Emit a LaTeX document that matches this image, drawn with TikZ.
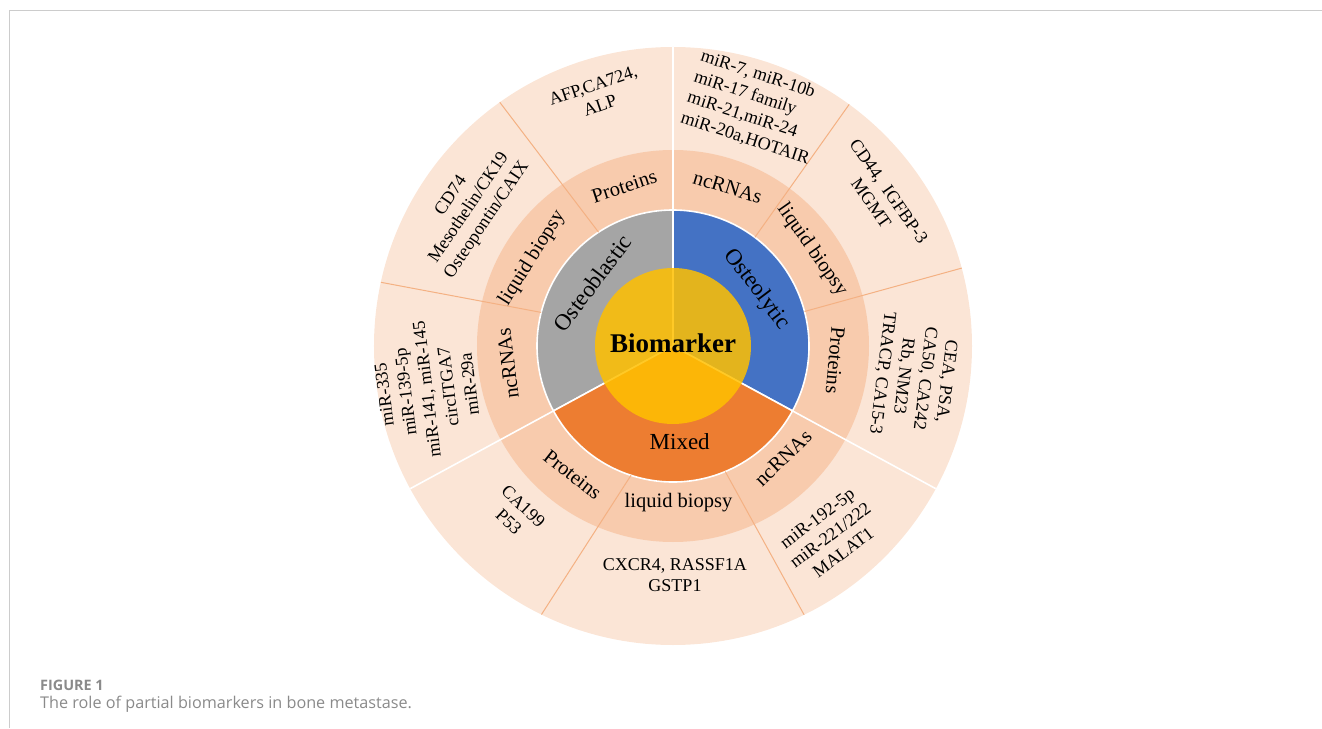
\documentclass[tikz,border=0pt]{standalone}
\usepackage{fontspec}
\setmainfont{Liberation Serif}
\newfontfamily\capfont{Open Sans}

\definecolor{outerring}{HTML}{FBE5D6}
\definecolor{midring}{HTML}{F8CBAD}
\definecolor{cutline}{HTML}{F4B183}
\definecolor{blastgray}{HTML}{A5A5A5}
\definecolor{lyticblue}{HTML}{4472C4}
\definecolor{mixorange}{HTML}{ED7D31}
\definecolor{coreyellow}{HTML}{FFC000}
\definecolor{framegray}{HTML}{CCCCCC}
\definecolor{capgray}{HTML}{8A8A8A}

% one slice of the wheel: start angle, end angle, radius
\newcommand{\wedgeslice}[3]{(0,0) -- (#1:#3) arc[start angle=#1, end angle=#2, radius=#3] -- cycle}

\begin{document}
\begin{tikzpicture}[x=1pt, y=1pt,
    leaf/.style={font=\fontsize{18}{21.5}\selectfont, align=center, inner sep=0pt},
    seg/.style={font=\fontsize{20.5}{24}\selectfont, inner sep=0pt},
    core/.style={font=\fontsize{23}{27}\selectfont, inner sep=0pt},
    cut/.style={draw=cutline, line width=1pt},
    split/.style={draw=white, line width=1.6pt}
]
\useasboundingbox (-673,-382) rectangle (649,346);

% Frame
\draw[framegray, line width=1pt] (649,335) -- (-663.5,335) -- (-663.5,-382);

% Rings
\fill[outerring] (0,0) circle[radius=299];
\fill[midring] (0,0) circle[radius=196];

% Bone lesion types
\filldraw[fill=blastgray, split] \wedgeslice{90}{208.5}{136};
\filldraw[fill=lyticblue, split] \wedgeslice{-28.5}{90}{136};
\filldraw[fill=mixorange, split] \wedgeslice{208.5}{331.5}{136};

% Centre disc
\fill[coreyellow, fill opacity=0.85] (0,0) circle[radius=78];

% Sub-sector dividers
\draw[cut] (123.2:136) -- (125.4:299);
\draw[cut] (165.7:136) -- (167.7:299);
\draw[cut] (53:136) -- (53.9:299);
\draw[cut] (14.7:136) -- (15.1:299);
\draw[cut] (252:136) -- (243.9:299);
\draw[cut] (292.6:136) -- (296:299);

% Sector dividers
\foreach \a in {90,208.5,331.5}
    \draw[split] (\a:136) -- (\a:299);

% Centre and lesion labels
\node[font=\fontsize{27}{30}\selectfont\bfseries] (biomarker) at (0,3) {Biomarker};
\node[core, rotate=53] (blastic) at (142:102) {Osteoblastic};
\node[core, rotate=-53] (lytic) at (34:101) {Osteolytic};
\node[core] (mixed) at (274:96) {Mixed};

% Osteoblastic branches
\node[seg, rotate=18] (blastprot) at (107:167) {Proteins};
\node[seg, rotate=58] (blastliq) at (148:166) {liquid biopsy};
\node[seg, rotate=97] (blastnc) at (186:166) {ncRNAs};

% Osteolytic branches
\node[seg, rotate=-17] (lyticnc) at (71:168) {ncRNAs};
\node[seg, rotate=-55] (lyticliq) at (34.6:169) {liquid biopsy};
\node[seg, rotate=-95] (lyticprot) at (-5:163) {Proteins};

% Mixed branches
\node[seg, rotate=-38] (mixprot) at (232:163) {Proteins};
\node[seg] (mixliq) at (272:157) {liquid biopsy};
\node[seg, rotate=44] (mixnc) at (314.5:157) {ncRNAs};

% Marker lists
\node[leaf, rotate=19] (afp) at (107:262) {AFP,CA724,\\ALP};
\node[leaf, rotate=56] (cd74) at (145.9:246) {CD74\\Mesothelin/CK19\\Osteopontin/CAIX};
\node[leaf, rotate=97] (mirblast) at (190:250) {miR-335\\miR-139-5p\\miR-141, miR-145\\circITGA7\\miR-29a};
\node[leaf, align=left, rotate=-18] (mirlytic) at (71:252) {miR-7, miR-10b\\miR-17 family\\miR-21,miR-24\\miR-20a,HOTAIR};
\node[leaf, rotate=-55] (cd44) at (35.7:255) {CD44,\ \ IGFBP-3\\MGMT};
\node[leaf, rotate=-97] (cea) at (-7.4:243) {CEA, PSA,\\CA50, CA242\\Rb, NM23\\TRACP, CA15-3};
\node[leaf, rotate=-43] (ca199) at (227:230) {CA199\\P53};
\node[leaf] (cxcr4) at (270.5:229) {CXCR4, RASSF1A\\GSTP1};
\node[leaf, rotate=37] (mirmix) at (309.7:246) {miR-192-5p\\miR-221/222\\MALAT1};

% Caption
\node[anchor=base west, inner sep=0pt, font=\capfont\fontsize{14.4}{17}\selectfont\bfseries, text=capgray] (fignum) at (-633,-344) {FIGURE 1};
\node[anchor=base west, inner sep=0pt, font=\capfont\fontsize{16.2}{19}\selectfont, text=capgray] (figcap) at (-633,-362) {The role of partial biomarkers in bone metastase.};

\end{tikzpicture}
\end{document}
